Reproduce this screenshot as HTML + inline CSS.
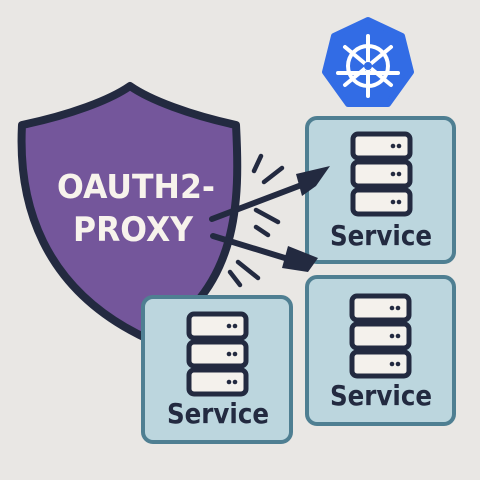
<!DOCTYPE html>
<html><head><style>
body{margin:0;width:480px;height:480px;background:#e9e7e4;overflow:hidden}
svg{display:block}
text{font-family:"DejaVu Sans","Liberation Sans",sans-serif;font-weight:bold}
</style></head><body>
<svg width="480" height="480" viewBox="0 0 480 480">
<defs>
<g id="srv">
<rect x="0" y="0" width="57" height="24" rx="5" fill="#f4f1ec" stroke="#232a40" stroke-width="5"/>
<circle cx="40" cy="12" r="2.3" fill="#232a40"/><circle cx="46" cy="12" r="2.3" fill="#232a40"/>
<rect x="0" y="28" width="57" height="24" rx="5" fill="#f4f1ec" stroke="#232a40" stroke-width="5"/>
<circle cx="40" cy="40" r="2.3" fill="#232a40"/><circle cx="46" cy="40" r="2.3" fill="#232a40"/>
<rect x="0" y="56" width="57" height="24" rx="5" fill="#f4f1ec" stroke="#232a40" stroke-width="5"/>
<circle cx="40" cy="68" r="2.3" fill="#232a40"/><circle cx="46" cy="68" r="2.3" fill="#232a40"/>
</g>
</defs>
<path d="M130 86 C110 100 70 115 22 125 C18 200 40 290 150 340 C240 290 240 200 236 125 C190 115 150 100 130 86 Z" fill="#74569b" stroke="#232a40" stroke-width="8" stroke-linejoin="round"/>
<text x="136" y="198" font-size="33" fill="#f7f3ec" text-anchor="middle" textLength="158" lengthAdjust="spacingAndGlyphs">OAUTH2-</text>
<text x="133" y="241" font-size="34" fill="#f7f3ec" text-anchor="middle" textLength="120" lengthAdjust="spacingAndGlyphs">PROXY</text>
<polygon points="368,20 402,36 411,72 388,104 348,104 325,72 334,36" fill="#326ce5" stroke="#326ce5" stroke-width="6" stroke-linejoin="round"/>
<g stroke="#fff" stroke-width="4" fill="none" stroke-linecap="round">
<circle cx="368" cy="66" r="20"/>
<line x1="368" y1="36" x2="368" y2="96"/>
<line x1="338" y1="73" x2="398" y2="73"/>
<line x1="345" y1="47" x2="391" y2="85"/>
<line x1="391" y1="47" x2="345" y2="85"/>
</g>
<circle cx="368" cy="66" r="4" fill="#326ce5"/>
<rect x="307" y="118" width="147" height="144" rx="10" fill="#bcd6de" stroke="#4f7f92" stroke-width="4"/>
<rect x="307" y="277" width="147" height="147" rx="10" fill="#bcd6de" stroke="#4f7f92" stroke-width="4"/>
<rect x="143" y="297" width="148" height="145" rx="10" fill="#bcd6de" stroke="#4f7f92" stroke-width="4"/>
<use href="#srv" x="353" y="134"/>
<use href="#srv" x="352" y="296"/>
<use href="#srv" x="189" y="314"/>
<text x="381" y="245" font-size="28" fill="#232a40" text-anchor="middle" textLength="102" lengthAdjust="spacingAndGlyphs">Service</text>
<text x="381" y="405" font-size="28" fill="#232a40" text-anchor="middle" textLength="102" lengthAdjust="spacingAndGlyphs">Service</text>
<text x="218" y="423" font-size="28" fill="#232a40" text-anchor="middle" textLength="102" lengthAdjust="spacingAndGlyphs">Service</text>
<g stroke="#232a40" stroke-width="6" stroke-linecap="round" fill="#232a40">
<line x1="212" y1="219" x2="312" y2="181"/>
<line x1="213" y1="236" x2="298" y2="262"/>
</g>
<g stroke="#232a40" stroke-width="4.5" stroke-linecap="round">
<line x1="254" y1="171" x2="261" y2="156"/>
<line x1="264" y1="182" x2="282" y2="168"/>
<line x1="256" y1="210" x2="278" y2="222"/>
<line x1="256" y1="227" x2="268" y2="235"/>
<line x1="238" y1="262" x2="258" y2="278"/>
<line x1="230" y1="272" x2="240" y2="285"/>
</g>
<polygon points="296,174 330,166 316,186 302,196" fill="#232a40"/>
<polygon points="288,246 318,258 308,272 282,268" fill="#232a40"/>
</svg>
</body></html>
